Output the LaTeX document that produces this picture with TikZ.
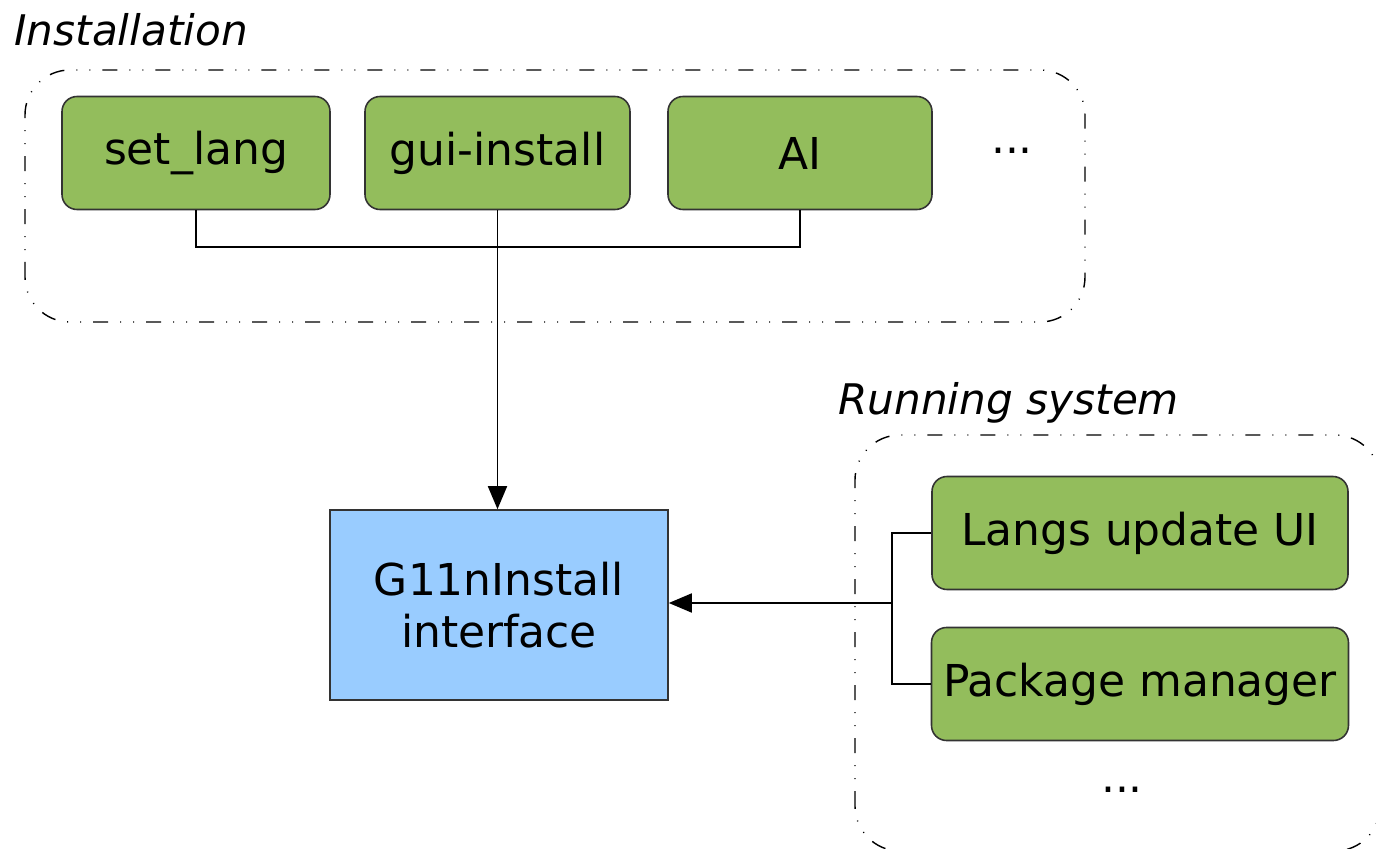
\documentclass[tikz,border=0pt]{standalone}
\usepackage{fontspec}
\setmainfont{DejaVu Sans}
\usetikzlibrary{arrows.meta,positioning}
\definecolor{modgreen}{RGB}{147,189,92}
\definecolor{ifblue}{RGB}{153,204,255}
\begin{document}
\begin{tikzpicture}[
		module/.style={draw=black!80, line width=0.45pt, fill=modgreen, rounded corners=0.15cm,
			minimum height=1.13cm, font=\fontsize{12.5}{15}\selectfont},
		iface/.style={draw=black!80, line width=0.45pt, fill=ifblue, minimum width=3.38cm,
			minimum height=1.9cm, align=center, font=\fontsize{12.5}{15}\selectfont},
		group/.style={line width=0.4pt, rounded corners=0.45cm,
			dash pattern=on 0.15cm off 0.12cm on 0.01cm off 0.12cm on 0.01cm off 0.12cm},
		grouplabel/.style={font=\fontsize{12}{14}\itshape, anchor=west},
		link/.style={line width=0.5pt},
		call/.style={line width=0.5pt, -{Triangle[length=0.23cm, width=0.19cm]}}
	]
		\useasboundingbox (0,0) rectangle (13.76,8.48);
		\clip (0,0) rectangle (13.76,8.48);
		% installation side
		\draw[group] (0.25,5.26) rectangle (10.85,7.78);
		\node[grouplabel] (instlabel) at (0.02,8.18) {Installation};
		\node[module, minimum width=2.68cm] (setlang) at (1.96,6.95) {set\_lang};
		\node[module, minimum width=2.65cm] (guiinst) at (4.975,6.95) {gui-install};
		\node[module, minimum width=2.64cm] (ai) at (8.0,6.95) {AI};
		\node (instdots) at (10.12,6.97) {\fontsize{12.5}{15}\selectfont ...};
		% interface
		\node[iface] (g11n) at (4.99,2.43) {G11nInstall\\interface};
		% running system side
		\draw[group] (8.55,-0.03) rectangle (13.8,4.13);
		\node[grouplabel] (runlabel) at (8.26,4.45) {Running system};
		\node[module, minimum width=4.16cm] (langs) at (11.40,3.15) {Langs update UI};
		\node[module, minimum width=4.16cm] (pkgman) at (11.40,1.64) {Package manager};
		\node (rundots) at (11.22,0.58) {\fontsize{12.5}{15}\selectfont ...};
		% connectors
		\draw[link] (setlang.south) -- ++(0,-0.37) -| (ai.south);
		\draw[call] (guiinst.south) -- (guiinst.south |- g11n.north);
		\coordinate (bus) at (8.92,2.45);
		\draw[link] (langs.west) -| (bus) |- (pkgman.west);
		\draw[call] (bus) -- (g11n.east |- bus);
	\end{tikzpicture}
\end{document}
